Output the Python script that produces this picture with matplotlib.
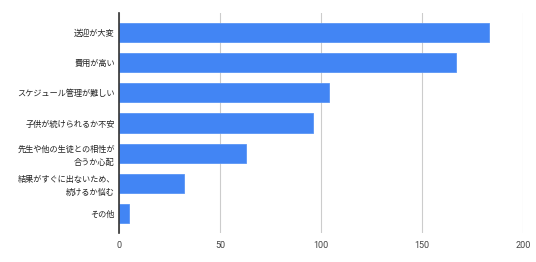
import matplotlib
matplotlib.use("Agg")
import matplotlib.pyplot as plt

# 項目と回答数
categories = [
    "送迎が大変",
    "費用が高い",
    "スケジュール管理が難しい",
    "子供が続けられるか不安",
    "先生や他の生徒との相性が\n合うか心配",
    "結果がすぐに出ないため、\n続けるか悩む",
    "その他",
]
counts = [183, 167, 104, 96, 63, 32, 5]
x_ticks = [0, 50, 100, 150, 200]

plt.rcParams["font.family"] = ["Noto Sans CJK JP", "DejaVu Sans"]

fig = plt.figure(figsize=(5.36, 2.62), dpi=100)
ax = fig.add_axes([0.222, 0.111, 0.754, 0.839])

y = list(range(len(categories)))
ax.barh(y, counts, height=0.64, color="#4285F4", edgecolor="#5a95f5", linewidth=0.6, zorder=3)

ax.set_ylim(len(categories) - 0.36, -0.64)
ax.set_xlim(0, 200)
ax.set_xticks(x_ticks)
ax.set_xticklabels([str(v) for v in x_ticks], fontsize=6.5, color="#444444", family="Roboto")
ax.set_yticks(y)
ax.set_yticklabels(categories, fontsize=5.9, color="#222222", linespacing=1.5)

ax.grid(axis="x", color="#cccccc", linewidth=0.8, zorder=0)
ax.tick_params(axis="y", length=0, pad=3)
ax.tick_params(axis="x", length=0, pad=6)
for side in ["top", "right", "bottom"]:
    ax.spines[side].set_visible(False)
ax.spines["left"].set_color("#333333")
ax.spines["left"].set_linewidth(1.2)
ax.spines["left"].set_zorder(4)

plt.savefig("out.png", dpi=100)
plt.close()
